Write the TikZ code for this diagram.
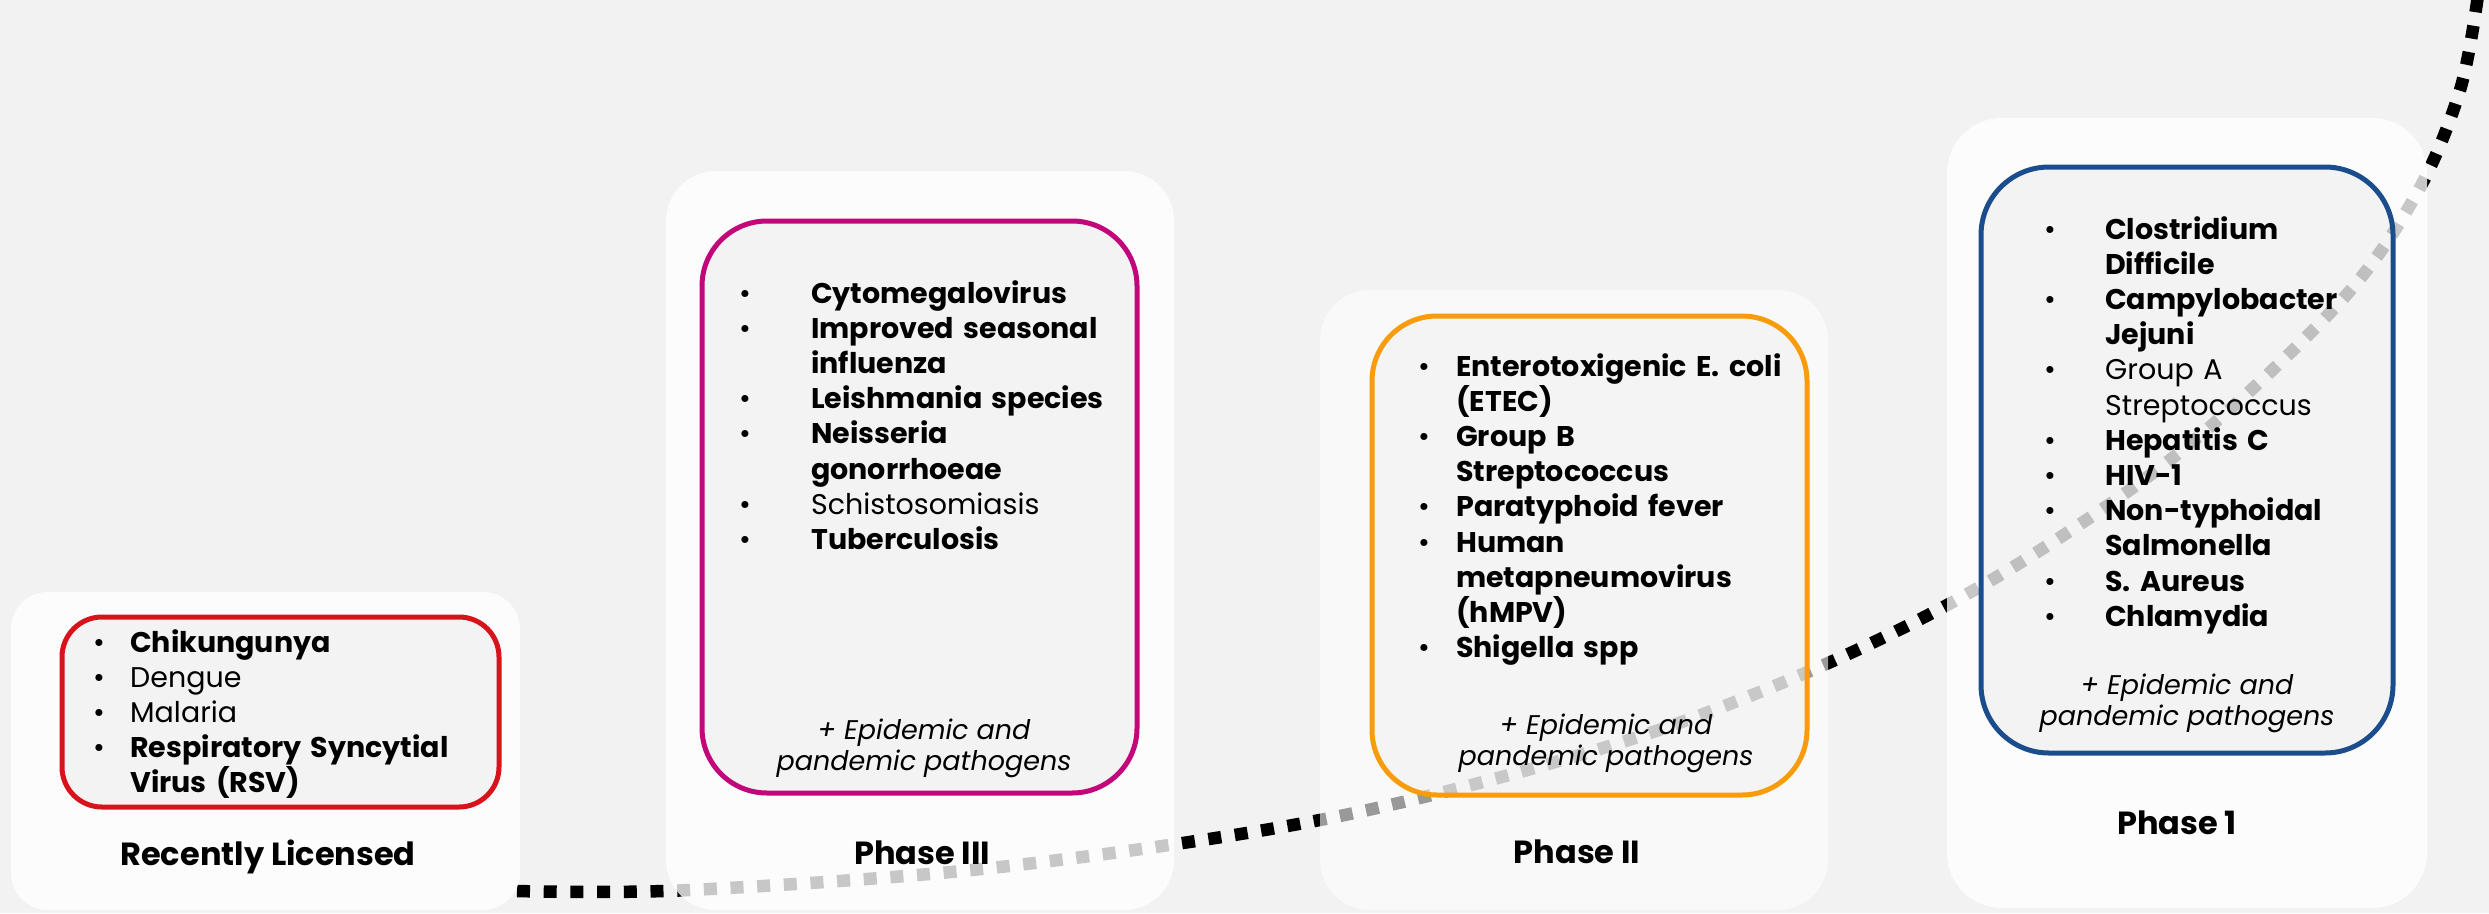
\documentclass[tikz,border=0pt]{standalone}
\usepackage{fontspec}
\setmainfont{Poppins}

\definecolor{bggrey}{HTML}{F2F2F2}
\definecolor{licred}{HTML}{D7131B}
\definecolor{phthree}{HTML}{C2077A}
\definecolor{phtwo}{HTML}{F89C0E}
\definecolor{phone}{HTML}{1B4D8C}

\newlength{\bulletgap}
\newcommand{\lstitem}[1]{\makebox[\bulletgap][l]{\textbullet}#1}
\newcommand{\lstcont}[1]{\hspace*{\bulletgap}#1}

\begin{document}
\begin{tikzpicture}[x=1pt,y=-1pt]

    \tikzstyle{panel}=[fill=white,fill opacity=0.78]
    \tikzstyle{frame}=[line width=5pt,fill=black,fill opacity=0.035]
    \tikzstyle{items}=[anchor=base west,inner sep=0pt,text width=600pt,
            align=left,font=\fontsize{28.5}{35.2}\selectfont]
    \tikzstyle{note}=[anchor=base,inner sep=0pt,align=center,
            font=\fontsize{27}{31}\selectfont\itshape]
    \tikzstyle{phase}=[anchor=base,inner sep=0pt,
            font=\fontsize{32}{38}\selectfont\bfseries]
    \tikzstyle{curve}=[line width=12.5pt,dash pattern=on 13pt off 13.7pt]

    % background
    \fill[bggrey] (0,0) rectangle (2489,913);
    \useasboundingbox (0,0) rectangle (2489,913);

    % ============================
    % Pipeline curve (behind the panels)
    % ============================
    \draw[curve] plot[smooth,tension=0.55] coordinates {
        (517,891) (690,890) (1000,867) (1330,818) (1616,744) (1826,664)
        (2000,575) (2180,452) (2340,302) (2417,193) (2460,90) (2478,-5)};

    % ============================
    % Panels
    % ============================
    \path[panel,rounded corners=37pt] (11,592) rectangle (520,910);
    \path[panel,rounded corners=50pt] (666,171) rectangle (1174,910);
    \path[panel,fill opacity=0.6,rounded corners=50pt] (1320,290) rectangle (1828,910);
    \path[panel,rounded corners=55pt] (1947,118) rectangle (2427,908);

    \draw[frame,draw=licred,rounded corners=40pt] (62,617) rectangle (499,807);
    \draw[frame,draw=phthree,rounded corners=65pt] (702,221) rectangle (1137,793);
    \draw[frame,draw=phtwo,fill=black!6,fill opacity=0.55,rounded corners=65pt]
        (1372,316) rectangle (1807,795);
    \draw[frame,draw=phone,rounded corners=68pt] (1981,167) rectangle (2393,753);

    % ============================
    % Recently licensed
    % ============================
    \node[items] (lic) at (93,652) {\setlength{\bulletgap}{37pt}%
        \lstitem{\textbf{Chikungunya}}\\
        \lstitem{Dengue}\\
        \lstitem{Malaria}\\
        \lstitem{\textbf{Respiratory Syncytial}}\\
        \lstcont{\textbf{Virus (RSV)}}};
    \node[phase] (liclabel) at (268,865) {Recently Licensed};

    % ============================
    % Phase III
    % ============================
    \node[items] (p3) at (739,303) {\setlength{\bulletgap}{72pt}%
        \lstitem{\textbf{Cytomegalovirus}}\\
        \lstitem{\textbf{Improved seasonal}}\\
        \lstcont{\textbf{influenza}}\\
        \lstitem{\textbf{Leishmania species}}\\
        \lstitem{\textbf{Neisseria}}\\
        \lstcont{\textbf{gonorrhoeae}}\\
        \lstitem{Schistosomiasis}\\
        \lstitem{\textbf{Tuberculosis}}};
    \node[note] (p3note) at (924,770) {+ Epidemic and\\pandemic pathogens};
    \node[phase] (p3label) at (922,864) {Phase III};

    % ============================
    % Phase II
    % ============================
    \node[items] (p2) at (1418,376) {\setlength{\bulletgap}{38pt}%
        \lstitem{\textbf{Enterotoxigenic E. coli}}\\
        \lstcont{\textbf{(ETEC)}}\\
        \lstitem{\textbf{Group B}}\\
        \lstcont{\textbf{Streptococcus}}\\
        \lstitem{\textbf{Paratyphoid fever}}\\
        \lstitem{\textbf{Human}}\\
        \lstcont{\textbf{metapneumovirus}}\\
        \lstcont{\textbf{(hMPV)}}\\
        \lstitem{\textbf{Shigella spp}}};
    \node[note] (p2note) at (1606,765) {+ Epidemic and\\pandemic pathogens};
    \node[phase] (p2label) at (1577,863) {Phase II};

    % ============================
    % Phase 1
    % ============================
    \node[items] (p1) at (2044,239) {\setlength{\bulletgap}{61pt}%
        \lstitem{\textbf{Clostridium}}\\
        \lstcont{\textbf{Difficile}}\\
        \lstitem{\textbf{Campylobacter}}\\
        \lstcont{\textbf{Jejuni}}\\
        \lstitem{Group A}\\
        \lstcont{Streptococcus}\\
        \lstitem{\textbf{Hepatitis C}}\\
        \lstitem{\textbf{HIV-1}}\\
        \lstitem{\textbf{Non-typhoidal}}\\
        \lstcont{\textbf{Salmonella}}\\
        \lstitem{\textbf{S. Aureus}}\\
        \lstitem{\textbf{Chlamydia}}};
    \node[note] (p1note) at (2187,725) {+ Epidemic and\\pandemic pathogens};
    \node[phase] (p1label) at (2177,834) {Phase 1};

\end{tikzpicture}
\end{document}
